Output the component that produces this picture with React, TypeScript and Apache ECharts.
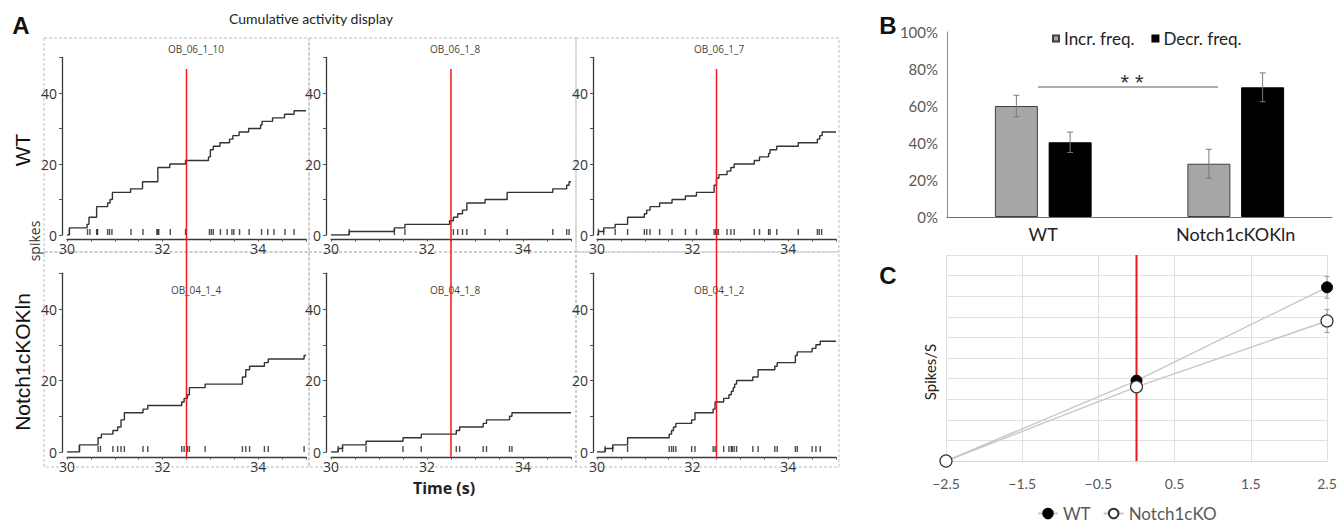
import React, { useEffect, useRef } from 'react';
import * as echarts from 'echarts';

// ---------------- Panel A data ----------------
const PANEL_NAMES = ['OB_06_1_10', 'OB_06_1_8', 'OB_06_1_7', 'OB_04_1_4', 'OB_04_1_8', 'OB_04_1_2'];
const X_TICK_LABELS = [30, 32, 34];
const Y_TICK_LABELS = [0, 20, 40];
const STIM_TIME = 32.5;

const CURVE_1 = [[30, 0], [30.05, 2], [30.42, 3], [30.46, 5], [30.62, 8], [30.85, 9], [30.9, 10], [30.95, 12], [31.33, 13], [31.58, 15], [31.9, 19], [32.15, 20], [32.48, 21], [32.96, 22], [33.0, 24], [33.06, 25], [33.2, 26], [33.4, 27], [33.47, 28], [33.6, 29], [33.8, 30], [34.05, 31], [34.08, 32], [34.3, 33], [34.55, 34], [34.75, 35], [35, 35]];
const CURVE_2 = [[30, 0], [30.38, 1], [31.32, 2], [31.54, 3], [32.47, 4], [32.55, 5], [32.64, 6], [32.74, 7], [32.83, 9], [33.21, 10], [33.67, 12], [34.62, 13], [34.91, 14], [34.96, 15], [35, 15]];
const CURVE_3 = [[30, 0], [30.03, 1], [30.14, 2], [30.38, 3], [30.64, 5], [30.99, 6], [31.04, 7], [31.11, 8], [31.31, 9], [31.57, 10], [31.85, 11], [32.08, 12], [32.45, 14], [32.5, 16], [32.55, 17], [32.72, 18], [32.8, 19], [32.87, 20], [33.29, 21], [33.4, 22], [33.59, 23], [33.62, 24], [33.76, 25], [34.21, 26], [34.61, 27], [34.66, 28], [34.71, 29], [35, 29]];
const CURVE_4 = [[30, 0], [30.26, 2], [30.65, 4], [30.72, 5], [30.96, 6], [31.06, 7], [31.13, 9], [31.2, 11], [31.59, 12], [31.69, 13], [32.4, 14], [32.45, 15], [32.52, 16], [32.56, 18], [32.89, 19], [33.67, 21], [33.74, 23], [33.82, 24], [34.13, 25], [34.21, 26], [34.96, 27], [35, 27]];
const CURVE_5 = [[30, 0], [30.15, 1], [30.24, 2], [30.73, 3], [31.5, 4], [31.88, 5], [32.61, 6], [32.68, 7], [33.17, 8], [33.24, 9], [33.72, 10], [33.77, 11], [35, 11]];
const CURVE_6 = [[30, 0], [30.17, 1], [30.33, 2], [30.64, 4], [31.51, 5], [31.56, 6], [31.6, 7], [31.65, 8], [31.98, 9], [32.05, 11], [32.43, 12], [32.47, 14], [32.65, 15], [32.76, 16], [32.81, 17], [32.85, 18], [32.88, 19], [32.92, 20], [33.26, 21], [33.37, 23], [33.72, 24], [33.77, 25], [34.15, 27], [34.19, 28], [34.5, 29], [34.58, 30], [34.67, 31], [35, 31]];

const SPIKES_1 = [30.05, 30.43, 30.48, 30.62, 30.64, 30.85, 30.89, 30.94, 31.34, 31.59, 31.88, 31.9, 31.92, 32.16, 32.48, 32.98, 33.02, 33.06, 33.21, 33.35, 33.45, 33.49, 33.61, 33.81, 34.07, 34.2, 34.33, 34.56, 34.75];
const SPIKES_2 = [30.38, 31.32, 31.54, 32.55, 32.64, 32.74, 32.83, 33.21, 33.67, 34.62, 34.91, 34.96];
const SPIKES_3 = [30.03, 30.14, 30.38, 30.64, 30.99, 31.04, 31.11, 31.31, 31.57, 31.85, 32.08, 32.45, 32.48, 32.51, 32.54, 32.72, 32.8, 32.87, 33.29, 33.4, 33.59, 33.62, 33.76, 34.21, 34.61, 34.65, 34.7];
const SPIKES_4 = [30.26, 30.65, 30.7, 30.96, 31.06, 31.13, 31.2, 31.59, 31.69, 32.4, 32.45, 32.52, 32.56, 32.89, 33.67, 33.74, 33.82, 34.13, 34.21, 34.96];
const SPIKES_5 = [30.15, 30.24, 30.73, 31.5, 31.88, 32.61, 32.68, 33.17, 33.24, 33.72, 33.77];
const SPIKES_6 = [30.17, 30.33, 30.64, 31.51, 31.56, 31.6, 31.65, 31.98, 32.05, 32.43, 32.47, 32.65, 32.76, 32.81, 32.83, 32.87, 32.92, 33.26, 33.37, 33.72, 33.77, 34.15, 34.19, 34.5, 34.58, 34.67];

const CURVES = [CURVE_1, CURVE_2, CURVE_3, CURVE_4, CURVE_5, CURVE_6];
const SPIKES = [SPIKES_1, SPIKES_2, SPIKES_3, SPIKES_4, SPIKES_5, SPIKES_6];

// ---------------- Panel B data ----------------
const B_CATS = ['WT', 'Notch1cKOKln'];
const B_INCR = [60, 28.8];
const B_DECR = [40.4, 70.1];
const B_INCR_ERR = [5.8, 7.8];
const B_DECR_ERR = [5.5, 7.8];
const B_Y_MAX = 100;

// ---------------- Panel C data ----------------
const C_X = [-2.5, 0, 2.5];
const C_WT = [0, 3.9, 8.43];
const C_KO = [0, 3.6, 6.8];
const C_WT_ERR = [0, 0, 0.53];
const C_KO_ERR = [0, 0, 0.56];

// ---------------- Layout ----------------
const FONT_A = '"Open Sans", "DejaVu Sans", sans-serif';
const FONT_B = 'Lato, "Open Sans", sans-serif';
const FONT_ARIAL = '"Liberation Sans", Arial, sans-serif';

const PANEL_COLS = [
  { left: 67, width: 239, yOff: 5, titleX: 196 },
  { left: 331, width: 240, yOff: 5, titleX: 455 },
  { left: 597, width: 239, yOff: 4, titleX: 719 },
];
const PANEL_ROWS = [
  { top: 57.5, height: 177.5, xOff: 4, titleY: 49 },
  { top: 273.25, height: 178.75, xOff: 5, titleY: 290 },
];
const RASTER_Y = 0.85;
const BAR_W = 43;
const BAR_GAP = 0.25;

function buildOption() {
  const grids: any[] = [];
  const xAxes: any[] = [];
  const yAxes: any[] = [];
  const series: any[] = [];
  const graphics: any[] = [];

  const axisLineA = { show: true, onZero: false, lineStyle: { color: '#3a3a3a', width: 1.3 } };

  for (let i = 0; i < 6; i++) {
    const r = PANEL_ROWS[Math.floor(i / 3)];
    const c = PANEL_COLS[i % 3];
    grids.push({ left: c.left, top: r.top, width: c.width, height: r.height, outerBoundsMode: 'none' });
    xAxes.push({
      type: 'value', gridIndex: i, min: 30, max: 35, interval: 0.5, offset: r.xOff,
      axisLine: axisLineA,
      axisTick: { show: true, length: 2.5, lineStyle: { color: '#555', width: 1 } },
      axisLabel: {
        margin: 2, fontSize: 14, color: '#333', fontFamily: FONT_A,
        formatter: (v: number) => (X_TICK_LABELS.some((t) => Math.abs(t - v) < 1e-6) ? String(v) : ''),
      },
      splitLine: { show: false },
    });
    yAxes.push({
      type: 'value', gridIndex: i, min: 0, max: 50, interval: 10, offset: c.yOff,
      axisLine: axisLineA,
      axisTick: { show: true, length: 3, lineStyle: { color: '#555', width: 1 } },
      axisLabel: {
        margin: 5, fontSize: 14, color: '#333', fontFamily: FONT_A,
        formatter: (v: number) => (Y_TICK_LABELS.includes(v) ? String(v) : ''),
      },
      splitLine: { show: false },
    });
    series.push({
      type: 'line', xAxisIndex: i, yAxisIndex: i, step: 'end', data: CURVES[i],
      symbol: 'none', showSymbol: false, silent: true, z: 3,
      lineStyle: { color: '#333', width: 1.4 },
    });
    series.push({
      type: 'scatter', xAxisIndex: i, yAxisIndex: i, silent: true, z: 2,
      data: SPIKES[i].map((t) => [t, RASTER_Y]),
      symbol: 'rect', symbolSize: [1.4, 6], itemStyle: { color: '#222' },
    });
    graphics.push({
      type: 'text', x: c.titleX, y: r.titleY, z: 0,
      style: { text: PANEL_NAMES[i], font: `10px ${FONT_A}`, fill: '#444', align: 'center', verticalAlign: 'middle', textAlign: 'center', textVerticalAlign: 'middle' },
    });
  }

  // Red stimulus lines spanning both rows of each column
  for (let k = 0; k < 3; k++) {
    const c = PANEL_COLS[k];
    const gi = 6 + k;
    grids.push({ left: c.left, width: c.width, top: 69, height: 388, outerBoundsMode: 'none' });
    xAxes.push({ type: 'value', gridIndex: gi, min: 30, max: 35, show: false });
    yAxes.push({ type: 'value', gridIndex: gi, min: 0, max: 1, show: false });
    series.push({
      type: 'line', xAxisIndex: gi, yAxisIndex: gi, data: [[STIM_TIME, 0], [STIM_TIME, 1]],
      symbol: 'none', silent: true, z: 6, lineStyle: { color: '#f21a1a', width: 1.5 },
    });
  }

  // ---------------- Panel B ----------------
  const gB = 9;
  grids.push({ left: 947, top: 32, width: 385, height: 185, outerBoundsMode: 'none' });
  xAxes.push({
    type: 'category', gridIndex: gB, data: B_CATS,
    axisLine: { show: true, lineStyle: { color: '#6d6d6d', width: 1 } },
    axisTick: { show: false },
    axisLabel: { margin: 8, fontSize: 18, color: '#222', fontFamily: FONT_B },
    splitLine: { show: false },
  });
  yAxes.push({
    type: 'value', gridIndex: gB, min: 0, max: B_Y_MAX, interval: 20,
    axisLine: { show: true, lineStyle: { color: '#8c8c8c', width: 1 } },
    axisTick: { show: false },
    axisLabel: { margin: 9, fontSize: 15, color: '#595959', fontFamily: FONT_B, formatter: '{value}%' },
    splitLine: { show: false },
  });
  series.push({
    name: 'Incr. freq.', type: 'bar', xAxisIndex: gB, yAxisIndex: gB, data: B_INCR,
    barWidth: BAR_W, barGap: `${BAR_GAP * 100}%`, silent: true,
    itemStyle: { color: '#a6a6a6', borderColor: '#3f3f3f', borderWidth: 1 },
  });
  series.push({
    name: 'Decr. freq.', type: 'bar', xAxisIndex: gB, yAxisIndex: gB, data: B_DECR,
    barWidth: BAR_W, barGap: `${BAR_GAP * 100}%`, silent: true,
    itemStyle: { color: '#000000', borderColor: '#000', borderWidth: 1 },
  });
  const errB = (vals: number[], errs: number[], side: number) => ({
    type: 'custom', xAxisIndex: gB, yAxisIndex: gB, silent: true, z: 5,
    data: vals.map((v, i) => [i, v - errs[i], v + errs[i]]),
    encode: { x: 0, y: [1, 2] },
    renderItem: (_p: any, api: any) => {
      const ci = api.value(0);
      const lo = api.coord([ci, api.value(1)]);
      const hi = api.coord([ci, api.value(2)]);
      const x = lo[0] + side * (BAR_W * (1 + BAR_GAP)) / 2;
      const st = { stroke: '#7a7a7a', lineWidth: 1 };
      return {
        type: 'group',
        children: [
          { type: 'line', shape: { x1: x, y1: lo[1], x2: x, y2: hi[1] }, style: st },
          { type: 'line', shape: { x1: x - 3, y1: lo[1], x2: x + 3, y2: lo[1] }, style: st },
          { type: 'line', shape: { x1: x - 3, y1: hi[1], x2: x + 3, y2: hi[1] }, style: st },
        ],
      };
    },
  });
  series.push(errB(B_INCR, B_INCR_ERR, -1));
  series.push(errB(B_DECR, B_DECR_ERR, 1));

  // ---------------- Panel C ----------------
  const gC = 10;
  grids.push({ left: 946, top: 255, width: 381, height: 206, outerBoundsMode: 'none' });
  xAxes.push({
    type: 'value', gridIndex: gC, min: -2.5, max: 2.5, interval: 1,
    axisLine: { show: true, onZero: false, lineStyle: { color: '#d9d9d9', width: 1 } },
    axisTick: { show: false },
    axisLabel: {
      margin: 15, fontSize: 14, color: '#595959', fontFamily: FONT_B,
      formatter: (v: number) => (v < 0 ? '\u2212' : '') + Math.abs(v).toFixed(1),
    },
    splitLine: { show: true, lineStyle: { color: '#e0e0e0', width: 1 } },
  });
  yAxes.push({
    type: 'value', gridIndex: gC, min: 0, max: 10, interval: 1,
    axisLine: { show: false }, axisTick: { show: false }, axisLabel: { show: false },
    splitLine: { show: true, lineStyle: { color: '#e0e0e0', width: 1 } },
  });
  series.push({
    type: 'line', xAxisIndex: gC, yAxisIndex: gC, data: [[0, 0], [0, 10]],
    symbol: 'none', silent: true, z: 2, lineStyle: { color: '#e8161c', width: 2 },
  });
  const errC = (vals: number[], errs: number[]) => ({
    type: 'custom', xAxisIndex: gC, yAxisIndex: gC, silent: true, z: 3,
    data: C_X.map((x, i) => [x, vals[i] - errs[i], vals[i] + errs[i]]).filter((_d, i) => errs[i] > 0),
    encode: { x: 0, y: [1, 2] },
    renderItem: (_p: any, api: any) => {
      const lo = api.coord([api.value(0), api.value(1)]);
      const hi = api.coord([api.value(0), api.value(2)]);
      const x = lo[0];
      const st = { stroke: '#9a9a9a', lineWidth: 1 };
      return {
        type: 'group',
        children: [
          { type: 'line', shape: { x1: x, y1: lo[1], x2: x, y2: hi[1] }, style: st },
          { type: 'line', shape: { x1: x - 2.5, y1: lo[1], x2: x + 2.5, y2: lo[1] }, style: st },
          { type: 'line', shape: { x1: x - 2.5, y1: hi[1], x2: x + 2.5, y2: hi[1] }, style: st },
        ],
      };
    },
  });
  series.push(errC(C_WT, C_WT_ERR));
  series.push(errC(C_KO, C_KO_ERR));
  series.push({
    name: 'WT', type: 'line', xAxisIndex: gC, yAxisIndex: gC, silent: true, z: 4,
    data: C_X.map((x, i) => [x, C_WT[i]]),
    symbol: 'circle', symbolSize: 11, showSymbol: true,
    itemStyle: { color: '#000', borderColor: '#000', borderWidth: 1 },
    lineStyle: { color: '#c8c8c8', width: 1.5 },
  });
  series.push({
    name: 'Notch1cKO', type: 'line', xAxisIndex: gC, yAxisIndex: gC, silent: true, z: 5,
    data: C_X.map((x, i) => [x, C_KO[i]]),
    symbol: 'circle', symbolSize: 12, showSymbol: true,
    itemStyle: { color: '#fff', borderColor: '#333', borderWidth: 1.2 },
    lineStyle: { color: '#c8c8c8', width: 1.5 },
  });

  // ---------------- Graphics (frames, labels) ----------------
  const boxes = [
    [44, 38, 265, 214], [309, 38, 267, 214], [576, 38, 263, 214],
    [44, 252, 265, 215], [309, 252, 267, 215], [576, 252, 263, 215],
  ];
  boxes.forEach(([x, y, w, h]) => {
    graphics.push({
      type: 'rect', z: -1, shape: { x, y, width: w, height: h },
      style: { fill: 'none', stroke: '#bdbdbd', lineWidth: 1, lineDash: [3, 2] },
    });
  });
  const txt = (text: string, x: number, y: number, font: string, fill: string, rotation = 0) => ({
    type: 'text', x, y, rotation, z: 1,
    style: { text, font, fill, align: 'center', verticalAlign: 'middle', textAlign: 'center', textVerticalAlign: 'middle' },
  });
  graphics.push(txt('A', 21, 25, `bold 24px ${FONT_ARIAL}`, '#111'));
  graphics.push(txt('Cumulative activity display', 311, 18, `14px ${FONT_B}`, '#222'));
  graphics.push(txt('WT', 22, 150, `21px ${FONT_ARIAL}`, '#111', Math.PI / 2));
  graphics.push(txt('spikes', 34, 241, `14px ${FONT_A}`, '#333', Math.PI / 2));
  graphics.push(txt('Notch1cKOKln', 22, 362, `21px ${FONT_ARIAL}`, '#111', Math.PI / 2));
  graphics.push(txt('Time (s)', 444, 488, `bold 16px ${FONT_A}`, '#222'));
  graphics.push(txt('B', 888, 25, `bold 24px ${FONT_ARIAL}`, '#111'));
  graphics.push(txt('C', 888, 275, `bold 24px ${FONT_ARIAL}`, '#111'));
  graphics.push(txt('* *', 1132, 82, `22px ${FONT_ARIAL}`, '#333'));
  graphics.push(txt('Spikes/S', 930, 372, `15px ${FONT_B}`, '#222', Math.PI / 2));
  graphics.push({
    type: 'line', z: 1, shape: { x1: 1038, y1: 87, x2: 1218, y2: 87 },
    style: { stroke: '#595959', lineWidth: 1 },
  });

  return {
    animation: false,
    backgroundColor: '#ffffff',
    grid: grids,
    xAxis: xAxes,
    yAxis: yAxes,
    series,
    legend: [
      {
        data: ['Incr. freq.', 'Decr. freq.'], left: 1052, top: 30, padding: 0,
        icon: 'rect', itemWidth: 6, itemHeight: 6, itemGap: 17, selectedMode: false,
        textStyle: { fontSize: 17, color: '#222', fontFamily: FONT_B },
      },
      {
        data: ['WT', 'Notch1cKO'], left: 1037, top: 505, padding: 0,
        itemWidth: 20, itemHeight: 12, itemGap: 12, selectedMode: false,
        textStyle: { fontSize: 17, color: '#595959', fontFamily: FONT_B },
      },
    ],
    graphic: graphics,
  };
}

export default function App() {
  const ref = useRef<HTMLDivElement>(null);
  useEffect(() => {
    document.body.style.margin = '0';
    if (!ref.current) return;
    const chart = echarts.init(ref.current, null, { renderer: 'svg' });
    chart.setOption(buildOption() as any);
    return () => chart.dispose();
  }, []);
  return <div ref={ref} style={{ width: 1337, height: 524 }} />;
}
